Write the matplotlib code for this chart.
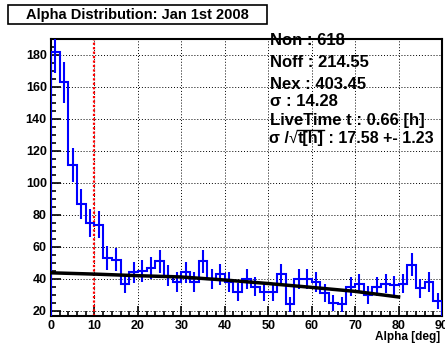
import numpy as np
import matplotlib
matplotlib.use("Agg")
import matplotlib.pyplot as plt
from matplotlib.patches import Rectangle
from matplotlib.lines import Line2D

plt.rcParams['font.family'] = ['Liberation Sans', 'DejaVu Sans']
plt.rcParams['font.weight'] = 'bold'

# alpha histogram, 2 deg bins from 0 to 90
bin_edges = np.arange(0, 92, 2)
counts = [182, 163, 111, 87, 75, 74, 53, 52, 37, 44,
          45, 47, 51, 42, 38, 44, 38, 51, 40, 43,
          38, 32, 40, 35, 32, 32, 43, 24, 40, 40,
          38, 31, 25, 24, 35, 37, 30, 35, 37, 36,
          37, 49, 34, 38, 26]

# background fit curve
fit_x = [0, 10, 20, 30, 40, 50, 60, 70, 80]
fit_y = [43.8, 43.0, 42.0, 41.2, 39.3, 37.1, 34.7, 32.2, 28.7]

alpha_cut = 10

title = "Alpha Distribution: Jan 1st 2008"
stats = ["Non : 618",
         "Noff : 214.55",
         "Nex : 403.45",
         "\u03c3 : 14.28",
         "LiveTime t : 0.66 [h]"]
signif_rate = ["\u03c3 /", "\u221a", "t[h]", " : 17.58 +- 1.23"]

counts = np.array(counts, dtype=float)
centers = 0.5 * (bin_edges[:-1] + bin_edges[1:])
errors = np.sqrt(counts)

W, H = 445, 345
fig = plt.figure(figsize=(W / 100, H / 100), dpi=100)
ax = fig.add_axes([51 / W, 29 / H, 391 / W, 277 / H])

blue = '#0000ff'
ax.stairs(counts, bin_edges, color=blue, lw=1.5, zorder=3)
ax.errorbar(centers, counts, yerr=errors, fmt='none', ecolor=blue,
            elinewidth=1.5, capsize=0, zorder=3)
ax.plot(fit_x, fit_y, color='black', lw=2.5, zorder=4)
ax.axvline(alpha_cut, color='red', lw=1.6, ls=(0, (1, 1)), zorder=2)

ax.set_xlim(0, 90)
ax.set_ylim(16.8, 190)
ax.set_xticks(np.arange(0, 100, 10))
ax.set_xticks(np.arange(0, 91, 2), minor=True)
ax.set_yticks(np.arange(20, 181, 20))
ax.set_yticks(np.arange(20, 191, 5), minor=True)
ax.grid(True, which='major', color='black', ls=(0, (1, 2)), lw=0.7)
ax.tick_params(which='both', direction='in', top=False, right=False,
               labelsize=9, width=1.2)
ax.tick_params(which='major', length=7, pad=3)
ax.tick_params(which='minor', length=3.5)
for lab in ax.get_xticklabels() + ax.get_yticklabels():
    lab.set_fontweight('bold')
for sp in ax.spines.values():
    sp.set_linewidth(1.5)

fig.text(440 / W, 1 - 337 / H, "Alpha [deg]", ha='right', va='center',
         fontsize=8.5, fontweight='bold')

# title box
fig.patches.append(Rectangle((8 / W, 1 - 24 / H), 259 / W, 19 / H,
                             transform=fig.transFigure, fill=False,
                             ec='black', lw=1.2))
fig.text(137 / W, 1 - 14.5 / H, title, ha='center', va='center',
         fontsize=10.5, fontweight='bold')

# stats block
fs = 12
baselines = [45, 67, 89, 106.5, 125, 143]
for txt, yb in zip(stats, baselines):
    fig.text(270 / W, 1 - yb / H, txt, ha='left', va='baseline',
             fontsize=fs, fontweight='bold', zorder=10)

# last line built piece by piece so the root bar sits over t[h]
renderer = fig.canvas.get_renderer()
x = 269
yb = baselines[-1]
bar_start = bar_end = None
for i, piece in enumerate(signif_rate):
    t = fig.text(x / W, 1 - yb / H, piece, ha='left', va='baseline',
                 fontsize=11.5, fontweight='normal' if i == 1 else 'bold',
                 zorder=10)
    ext = t.get_window_extent(renderer)
    if i == 1:
        bar_start = ext.x1 - 1
    if i == 2:
        bar_end = ext.x1
    x = ext.x1
fig.lines.append(Line2D([bar_start / W, bar_end / W],
                        [1 - (yb - 13) / H] * 2,
                        transform=fig.transFigure, color='black', lw=1.0))

fig.savefig("out.png", dpi=100)
